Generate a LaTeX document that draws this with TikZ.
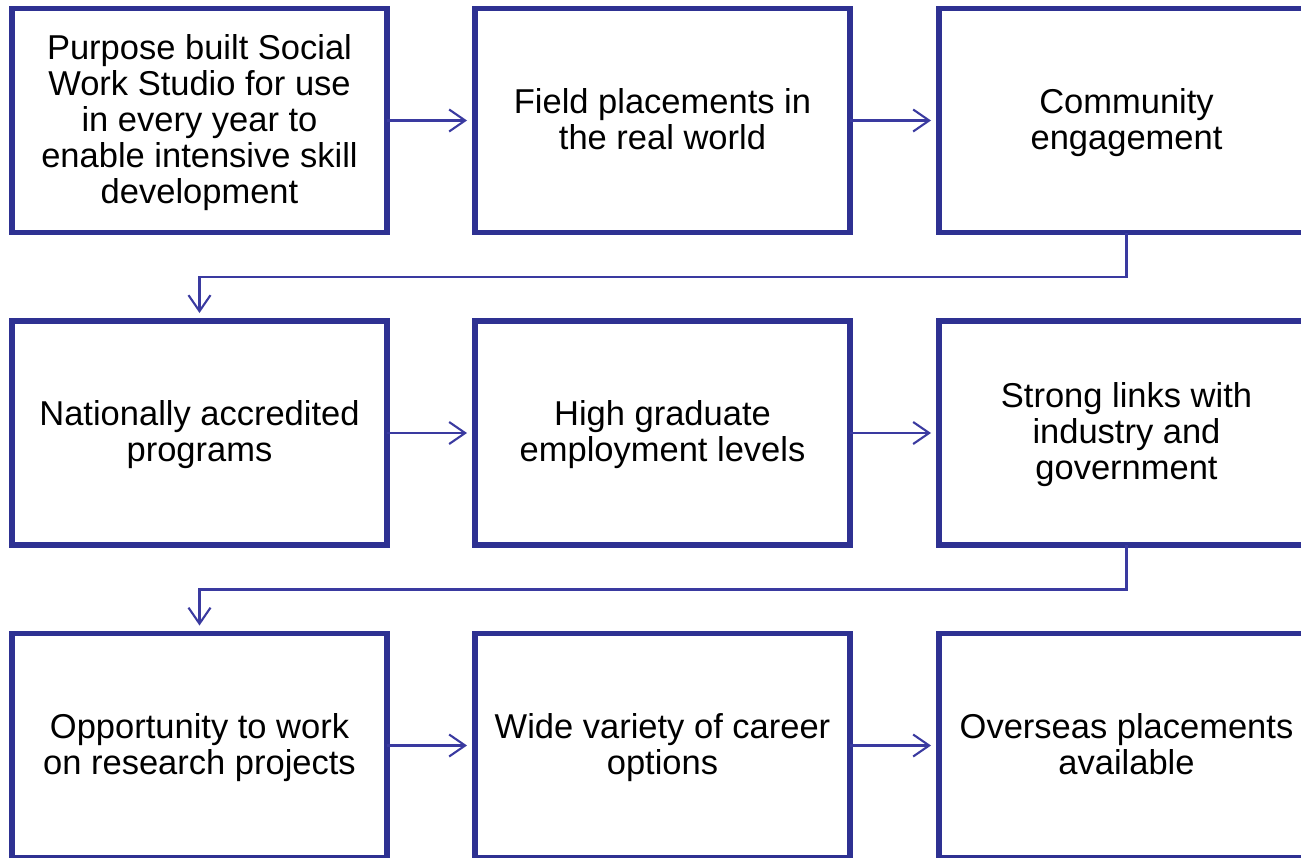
\documentclass[tikz,border=0pt]{standalone}
\usepackage{fontspec}
\setmainfont{Liberation Sans}
\usetikzlibrary{arrows.meta}
\definecolor{boxblue}{RGB}{46,49,146}
\definecolor{linkblue}{RGB}{58,58,160}
\newcommand{\cardtext}[1]{\raisebox{-10pt}[0pt][0pt]{\begin{tabular}{@{}c@{}}#1\end{tabular}}}
\begin{document}
\begin{tikzpicture}[x=1pt,y=-1pt,
  card/.style={draw=boxblue, line width=5.5pt, minimum width=375pt, minimum height=224pt,
    inner sep=0pt, outer sep=0pt, text=black,
    font=\fontsize{34.5}{36}\selectfont},
  link/.style={draw=linkblue, line width=2.1pt,
    -{Straight Barb[length=16pt,width=22pt,line width=2.1pt]}, shorten >=8pt}]
\useasboundingbox (0,0) rectangle (1301,857);
\clip (0,0) rectangle (1301,857);
\node[card] (b1) at (199.5,120.5) {\cardtext{Purpose built Social\\Work Studio for use\\in every year to\\enable intensive skill\\development}};
\node[card] (b2) at (662.5,120.5) {\cardtext{Field placements in\\the real world}};
\node[card] (b3) at (1126.5,120.5) {\cardtext{Community\\engagement}};
\node[card] (b4) at (199.5,433) {\cardtext{Nationally accredited\\programs}};
\node[card] (b5) at (662.5,433) {\cardtext{High graduate\\employment levels}};
\node[card] (b6) at (1126.5,433) {\cardtext{Strong links with\\industry and\\government}};
\node[card] (b7) at (199.5,745.5) {\cardtext{Opportunity to work\\on research projects}};
\node[card] (b8) at (662.5,745.5) {\cardtext{Wide variety of career\\options}};
\node[card] (b9) at (1126.5,745.5) {\cardtext{Overseas placements\\available}};
\draw[link] (b1.east) -- (b2.west);
\draw[link] (b2.east) -- (b3.west);
\draw[link] (b4.east) -- (b5.west);
\draw[link] (b5.east) -- (b6.west);
\draw[link] (b7.east) -- (b8.west);
\draw[link] (b8.east) -- (b9.west);
\draw[link] (b3.south) -- (b3.south |- 0,277) -| (b4.north);
\draw[link] (b6.south) -- (b6.south |- 0,589.5) -| (b7.north);
\end{tikzpicture}
\end{document}
